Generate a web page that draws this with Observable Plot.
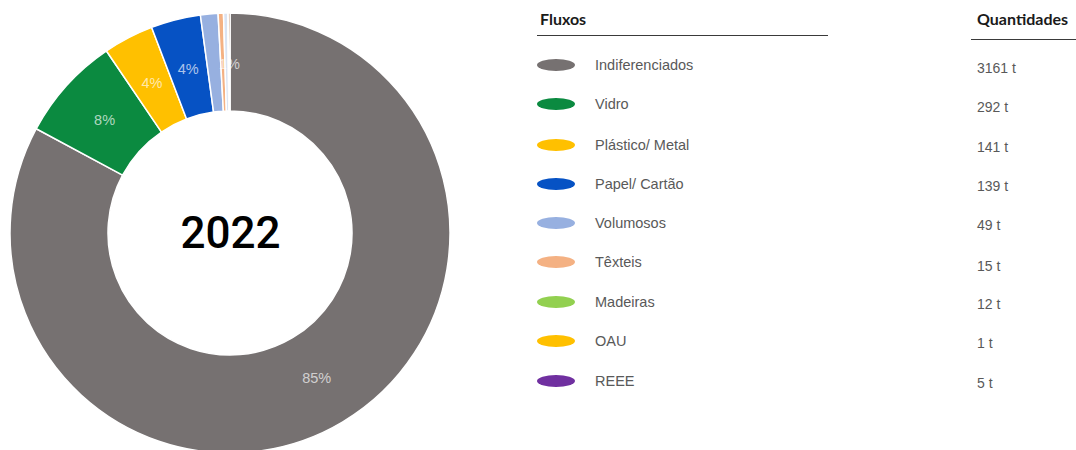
<!DOCTYPE html>
<html>
<head>
<meta charset="utf-8">
<script src="https://cdn.jsdelivr.net/npm/d3@7"></script>
<script src="https://cdn.jsdelivr.net/npm/@observablehq/plot@0.6"></script>
<style>
  html, body { margin: 0; padding: 0; background: #fff; }
  #wrap { position: relative; width: 1076px; height: 450px; overflow: hidden; font-family: "Liberation Sans", Arial, sans-serif; }
  #chart { position: absolute; left: 0; top: 0; }
  .hdr { position: absolute; font-family: "Lato", "Liberation Sans", sans-serif; font-weight: bold; font-size: 16px; color: #1a1a1a; line-height: 1; }
  .rule { position: absolute; height: 0; border-top: 1.5px solid #3a3a3a; }
  .row { position: absolute; left: 537px; height: 20px; display: flex; align-items: center; }
  .sw { width: 38px; height: 12px; border-radius: 50%; }
  .lab { position: absolute; left: 58px; font-size: 14.5px; color: #595959; white-space: nowrap; }
  .qty { position: absolute; left: 977px; font-size: 14px; color: #595959; white-space: nowrap; height: 20px; line-height: 20px; }
</style>
</head>
<body>
<div id="wrap">
  <div id="chart"></div>
</div>
<script>
// ---- data ----
const names = ["Indiferenciados", "Vidro", "Plástico/ Metal", "Papel/ Cartão", "Volumosos", "Têxteis", "Madeiras", "OAU", "REEE"];
const values = [3161, 292, 141, 139, 49, 15, 12, 1, 5];
const quantityLabels = ["3161 t", "292 t", "141 t", "139 t", "49 t", "15 t", "12 t", "1 t", "5 t"];
const percentLabels = ["85%", "8%", "4%", "4%", "", "", "", "", "1%"];
const centerLabel = "2022";
const legendTitle = "Fluxos";
const quantityTitle = "Quantidades";

// ---- styles ----
const legendColors = ["#767171", "#0b8a40", "#ffc000", "#0652c4", "#97b0e0", "#f4b183", "#92d050", "#ffc000", "#7030a0"];
const pieColors = ["#767171", "#0b8a40", "#ffc000", "#0652c4", "#97b0e0", "#f4b183", "#dae3f3", "#264478", "#9e480e"];
const cx = 230, cy = 233, outerR = 220, innerR = 122;

const data = names.map((name, i) => ({name, value: values[i], pct: percentLabels[i]}));
const total = d3.sum(values);

const arcGen = d3.arc().innerRadius(innerR).outerRadius(outerR);

const chart = Plot.plot({
  width: 1076,
  height: 450,
  margin: 0,
  style: {background: "transparent", overflow: "visible"},
  x: {domain: [0, total], range: [0, 2 * Math.PI], axis: null},
  color: {domain: names, range: pieColors},
  marks: [
    Plot.barX(data, {
      x: "value",
      fill: "name",
      render(index, scales, vals) {
        const g = d3.create("svg:g").attr("transform", `translate(${cx},${cy})`);
        for (const i of index) {
          g.append("path")
            .attr("d", arcGen({startAngle: vals.x1[i], endAngle: vals.x2[i]}))
            .attr("fill", vals.fill[i])
            .attr("stroke", "#fff")
            .attr("stroke-width", 1.5)
            .attr("stroke-linejoin", "round");
        }
        return g.node();
      }
    }),
    Plot.barX(data, {
      x: "value",
      render(index, scales, vals) {
        const g = d3.create("svg:g").attr("transform", `translate(${cx},${cy})`);
        for (const i of index) {
          if (!data[i].pct) continue;
          const mid = (vals.x1[i] + vals.x2[i]) / 2;
          const rr = (innerR + outerR) / 2 - 2;
          const px = rr * Math.sin(mid), py = -rr * Math.cos(mid);
          g.append("text")
            .attr("x", px).attr("y", py)
            .attr("text-anchor", "middle")
            .attr("dominant-baseline", "central")
            .attr("fill", "#fff")
            .attr("fill-opacity", 0.68)
            .attr("font-family", "Liberation Sans Narrow, Liberation Sans, Arial, sans-serif")
            .attr("font-size", 14.5)
            .text(data[i].pct);
        }
        return g.node();
      }
    }),
    Plot.text([centerLabel], {
      text: d => d,
      frameAnchor: "top-left",
      dx: cx,
      dy: cy,
      textAnchor: "middle",
      lineAnchor: "middle",
      fontSize: 44,
      fontWeight: 500,
      fontFamily: "Roboto, Liberation Sans, Arial, sans-serif",
      fill: "#000"
    })
  ]
});
document.getElementById("chart").appendChild(chart);

// ---- legend (HTML) ----
const wrap = document.getElementById("wrap");
function add(html, cls, style) {
  const el = document.createElement("div");
  el.className = cls;
  Object.assign(el.style, style);
  el.innerHTML = html;
  wrap.appendChild(el);
  return el;
}
add(legendTitle, "hdr", {left: "540px", top: "11px"});
add("", "rule", {left: "537px", top: "35px", width: "291px"});
add(quantityTitle, "hdr", {left: "977px", top: "11px"});
add("", "rule", {left: "971px", top: "39px", width: "110px"});

const rowY = [65, 104, 145, 184, 223, 262, 302, 341, 381];
const qtyY = [68, 107, 147, 186, 225, 266, 304, 343, 383];
names.forEach((n, i) => {
  const row = add("", "row", {top: (rowY[i] - 10) + "px"});
  const sw = document.createElement("div");
  sw.className = "sw";
  sw.style.background = legendColors[i];
  row.appendChild(sw);
  const lab = document.createElement("div");
  lab.className = "lab";
  lab.textContent = n;
  row.appendChild(lab);
  add(quantityLabels[i], "qty", {top: (qtyY[i] - 10) + "px"});
});
</script>
</body>
</html>
